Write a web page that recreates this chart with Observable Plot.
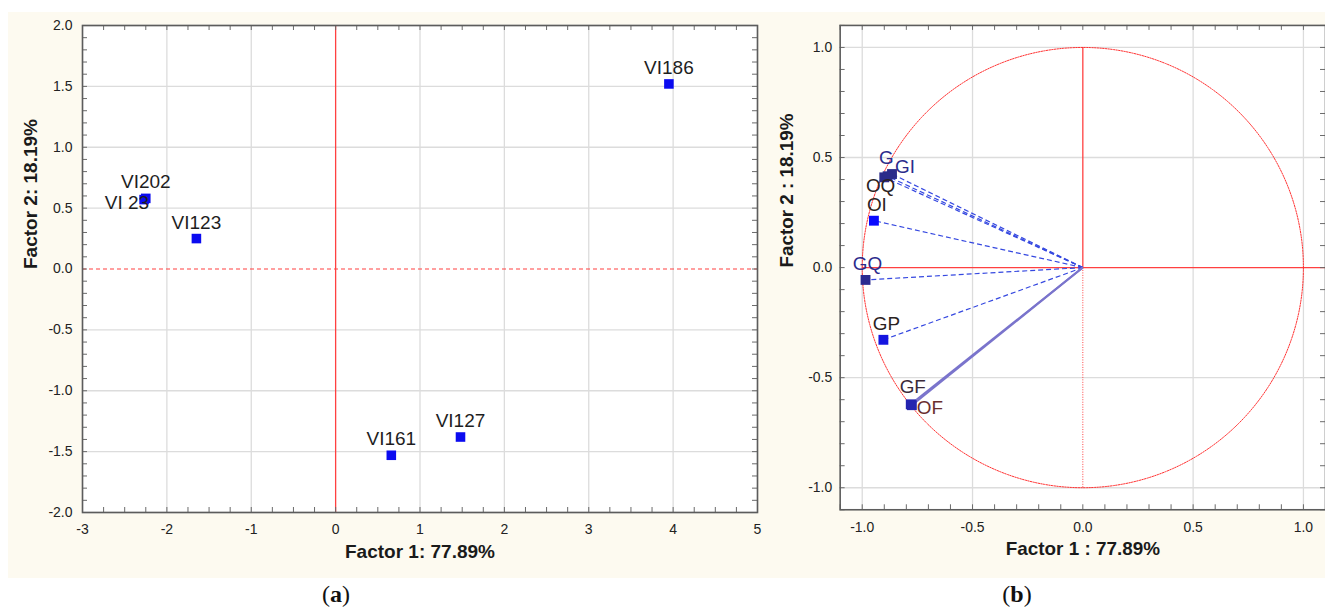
<!DOCTYPE html>
<html><head><meta charset="utf-8">
<script src="https://cdn.jsdelivr.net/npm/d3@7"></script>
<script src="https://cdn.jsdelivr.net/npm/@observablehq/plot@0.6"></script>
<style>
html,body{margin:0;padding:0;background:#fff;overflow:hidden;width:1325px;height:611px}
#wrap{position:relative;width:1325px;height:611px;overflow:hidden}
#cream{position:absolute;left:8px;top:12px;width:1317px;height:566px;background:#fdfaf0}
#pa{position:absolute;left:8px;top:12px}
#pb{position:absolute;left:778px;top:12px}
.cap{position:absolute;top:582px;font-family:"Liberation Serif","DejaVu Serif",serif;font-size:24px;color:#111;transform:translateX(-50%);line-height:1}
</style></head><body>
<div id="wrap"><div id="cream"></div><div id="pa"></div><div id="pb"></div>
<div class="cap" style="left:336px">(<b>a</b>)</div>
<div class="cap" style="left:1017px">(<b>b</b>)</div>
</div>
<script>
// ---------- data ----------
const caseNames = ["VI186", "VI202", "VI 23", "VI123", "VI161", "VI127"];
const caseF1 = [3.95, -2.25, -2.27, -1.65, 0.66, 1.48];
const caseF2 = [1.52, 0.58, 0.57, 0.25, -1.53, -1.38];

const varNames = ["G", "GI", "OQ", "OI", "GQ", "GP", "GF", "OF"];
const varF1 = [-0.90, -0.865, -0.885, -0.947, -0.985, -0.904, -0.780, -0.775];
const varF2 = [0.41, 0.425, 0.415, 0.213, -0.056, -0.328, -0.621, -0.625];

const ticksAx = [-3, -2, -1, 0, 1, 2, 3, 4, 5];
const ticksAy = [-2, -1.5, -1, -0.5, 0, 0.5, 1, 1.5, 2];
const ticksB = [-1, -0.5, 0, 0.5, 1];

const axisLabelA = {x: "Factor 1: 77.89%", y: "Factor 2: 18.19%"};
const axisLabelB = {x: "Factor 1 : 77.89%", y: "Factor 2 : 18.19%"};

// ---------- tables ----------
const cases = caseNames.map((n, i) => ({name: n, f1: caseF1[i], f2: caseF2[i]}));
const vars = varNames.map((n, i) => ({name: n, f1: varF1[i], f2: varF2[i]}));

const FONT = "Liberation Sans, Arial, sans-serif";
const RED = "#ff4040";
const H = 566, MT = 13, MB = 66;
const innerH = H - MT - MB;
const fmt1 = d => d.toFixed(1);
const rangeStep = (a, b, s) => d3.range(Math.round((b - a) / s) + 1).map(i => +(a + i * s).toFixed(4));

function frameTicks(xs, ys, innerW, len) {
  const o = {stroke: "#6a6a6a", strokeWidth: 1};
  return [
    Plot.tickX(xs, {x: d => d, insetTop: innerH - len, ...o}),
    Plot.tickX(xs, {x: d => d, insetBottom: innerH - len, ...o}),
    Plot.tickY(ys, {y: d => d, insetRight: innerW - len, ...o}),
    Plot.tickY(ys, {y: d => d, insetLeft: innerW - len, ...o})
  ];
}

// ---------- panel (a) ----------
{
  const W = 762, ML = 74, MR = 13;
  const innerW = W - ML - MR;
  const minorX = rangeStep(-3, 5, 0.25);
  const minorY = rangeStep(-2, 2, 0.1);
  const labelOpts = {x: "f1", y: "f2", text: "name", fontSize: 19, fill: "#1e1e1e", fontFamily: FONT};
  const chart = Plot.plot({
    width: W, height: H,
    marginLeft: ML, marginRight: MR, marginTop: MT, marginBottom: MB,
    style: {background: "transparent", fontFamily: FONT, color: "#222"},
    x: {domain: [-3, 5], label: null},
    y: {domain: [-2, 2], label: null},
    marks: [
      Plot.frame({fill: "white", stroke: null}),
      Plot.ruleX(ticksAx.filter(d => d !== 0), {stroke: "#dcdcdc", strokeWidth: 1.3}),
      Plot.ruleY(ticksAy.filter(d => d !== 0), {stroke: "#dcdcdc", strokeWidth: 1.3}),
      Plot.ruleX([0], {stroke: RED, strokeWidth: 1.3}),
      Plot.ruleY([0], {stroke: RED, strokeWidth: 1.1, strokeDasharray: "4,3"}),
      ...frameTicks(minorX, minorY, innerW, 5),
      Plot.frame({stroke: "#5c5c5c", strokeWidth: 1.6}),
      Plot.axisX(ticksAx, {tickSize: 0, tickPadding: 12, tickFormat: d => String(d), fontSize: 14}),
      Plot.axisY(ticksAy, {tickSize: 0, tickPadding: 10, tickFormat: fmt1, fontSize: 14}),
      Plot.text([axisLabelA.x], {frameAnchor: "bottom", dy: 45, fontWeight: "bold", fontSize: 19, fill: "#1a1a1a", fontFamily: FONT}),
      Plot.text([axisLabelA.y], {frameAnchor: "left", dx: -52, dy: 0, rotate: -90, fontWeight: "bold", fontSize: 19, fill: "#1a1a1a", fontFamily: FONT}),
      Plot.dot(cases, {x: "f1", y: "f2", symbol: "square", r: 5.4, fill: "#0b0bf0", stroke: null}),
      Plot.text(cases.filter(d => d.name !== "VI 23"), {...labelOpts, dy: -16}),
      Plot.text(cases.filter(d => d.name === "VI 23"), {...labelOpts, textAnchor: "end", dx: 5, dy: 3})
    ]
  });
  document.getElementById("pa").appendChild(chart);
}

// ---------- panel (b) ----------
{
  const W = 550, ML = 62, MR = 0;
  const innerW = W - ML - MR;
  const minor = rangeStep(-1.1, 1.1, 0.1);
  const circle = d3.range(0, 361, 1).map(a => ({cx: Math.cos(a * Math.PI / 180), cy: Math.sin(a * Math.PI / 180)}));
  const navy = "#2b2b8c", dark = "#2a2222";
  const markerColor = {G: "#2b2b8a", GI: "#2b2b8a", OQ: "#2b2b8a", OI: "#0a0aff", GQ: "#2b2b90", GP: "#1515e0", GF: "#2424b0", OF: "#2424b0"};
  const labelColor = {G: navy, GI: navy, OQ: dark, OI: dark, GQ: navy, GP: dark, GF: "#3a2a3a", OF: "#6a2e2e"};
  const lab = (name, opts) => Plot.text(vars.filter(d => d.name === name),
    {x: "f1", y: "f2", text: "name", fontSize: 19, fill: labelColor[name], fontFamily: FONT, ...opts});
  const solidLinks = ["GF", "OF"];
  const chart = Plot.plot({
    width: W, height: H,
    marginLeft: ML, marginRight: MR, marginTop: MT, marginBottom: MB,
    style: {background: "transparent", fontFamily: FONT, color: "#222", overflow: "visible"},
    x: {domain: [-1.1, 1.1], label: null},
    y: {domain: [-1.1, 1.1], label: null},
    marks: [
      Plot.frame({fill: "white", stroke: null}),
      Plot.ruleX(ticksB.filter(d => d !== 0), {stroke: "#dcdcdc", strokeWidth: 1.3}),
      Plot.ruleY(ticksB.filter(d => d !== 0), {stroke: "#dcdcdc", strokeWidth: 1.3}),
      Plot.ruleY([0], {x1: -1, x2: 1.1, stroke: RED, strokeWidth: 1.3}),
      Plot.ruleX([0], {y1: 0, y2: 1, stroke: RED, strokeWidth: 1.3}),
      Plot.ruleX([0], {y1: -1, y2: 0, stroke: RED, strokeWidth: 1, strokeDasharray: "1,1.5"}),
      Plot.line(circle, {x: "cx", y: "cy", stroke: "#ff3030", strokeWidth: 1, strokeDasharray: "1.5,1.2"}),
      Plot.link(vars.filter(d => !solidLinks.includes(d.name)), {x1: 0, y1: 0, x2: "f1", y2: "f2", stroke: "#3548e0", strokeWidth: 1.2, strokeDasharray: "5,3"}),
      Plot.link(vars.filter(d => solidLinks.includes(d.name)), {x1: 0, y1: 0, x2: "f1", y2: "f2", stroke: "#7a74cc", strokeWidth: 2}),
      ...frameTicks(minor, minor, innerW, 5),
      Plot.frame({stroke: "#5c5c5c", strokeWidth: 1.6}),
      Plot.axisX(ticksB, {tickSize: 0, tickPadding: 12, tickFormat: fmt1, fontSize: 14}),
      Plot.axisY(ticksB, {tickSize: 0, tickPadding: 8, tickFormat: fmt1, fontSize: 14}),
      Plot.text([axisLabelB.x], {frameAnchor: "bottom", dy: 45, fontWeight: "bold", fontSize: 19, fill: "#1a1a1a", fontFamily: FONT}),
      Plot.text([axisLabelB.y], {frameAnchor: "left", dx: -53, dy: 0, rotate: -90, fontWeight: "bold", fontSize: 19, fill: "#1a1a1a", fontFamily: FONT}),
      Plot.dot(vars, {x: "f1", y: "f2", symbol: "square", r: 5.6, fill: d => markerColor[d.name], stroke: null}),
      lab("G", {dx: 2, dy: -19}),
      lab("GI", {textAnchor: "start", dx: 3, dy: -7}),
      lab("OQ", {dx: -7, dy: 10}),
      lab("OI", {dx: 3, dy: -16}),
      lab("GQ", {dx: 2, dy: -16}),
      lab("GP", {dx: 3, dy: -16}),
      lab("GF", {dx: 2, dy: -17}),
      lab("OF", {textAnchor: "start", dx: 5, dy: 3})
    ]
  });
  document.getElementById("pb").appendChild(chart);
}
</script>
</body></html>
